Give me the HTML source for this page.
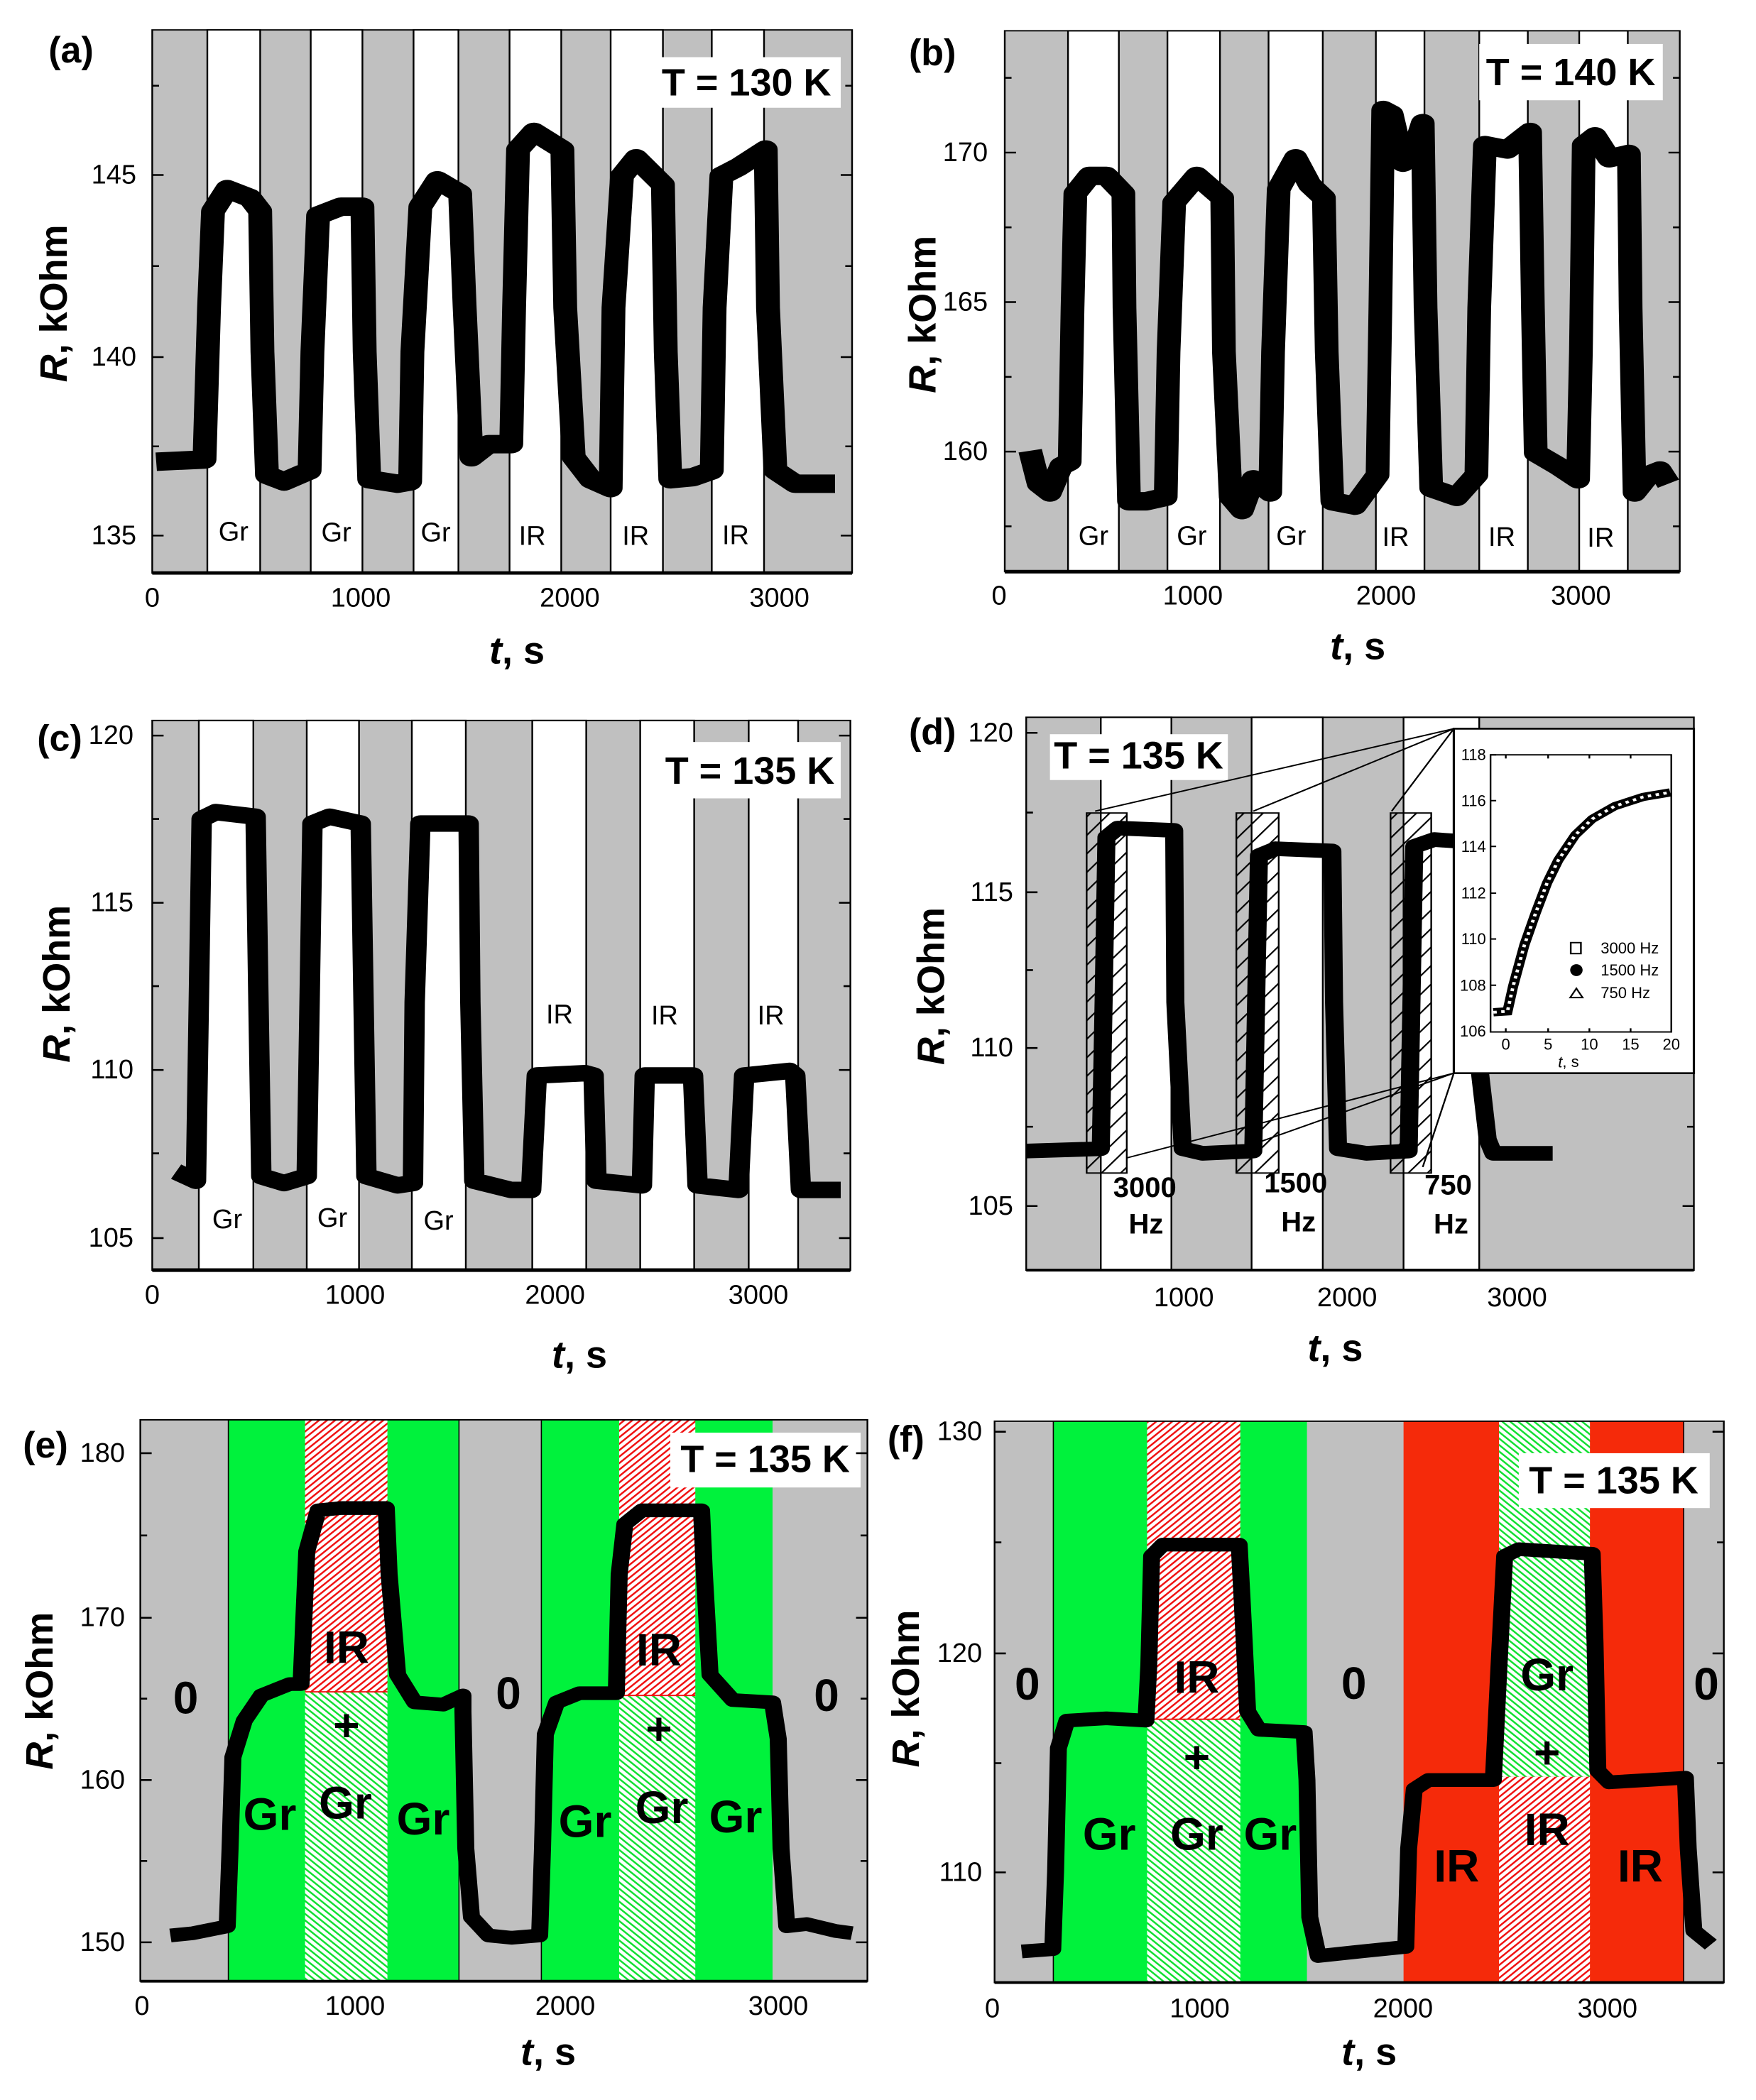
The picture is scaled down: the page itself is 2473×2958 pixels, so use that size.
<!DOCTYPE html>
<html><head><meta charset="utf-8"><style>
html,body{margin:0;padding:0;background:#fff}
svg{display:block}
text{font-family:"Liberation Sans",Arial,sans-serif;fill:#000;dominant-baseline:central}
.tk{font-size:38px}
.ax{font-size:54px;font-weight:bold}
.pl{font-size:52px;font-weight:bold}
.T{font-size:54px;font-weight:bold}
.lb{font-size:38px}
.big{font-size:64px;font-weight:bold}
.hz{font-size:40px;font-weight:bold}
.in{font-size:22px}
</style></head><body>
<svg width="2473" height="2958" viewBox="0 0 2473 2958" xmlns="http://www.w3.org/2000/svg">
<defs>
<pattern id="rh" patternUnits="userSpaceOnUse" width="10" height="10" patternTransform="rotate(45)">
<rect width="10" height="10" fill="#fff"/><rect x="0" y="0" width="3.5" height="10" fill="#f01010"/></pattern>
<pattern id="gh" patternUnits="userSpaceOnUse" width="10" height="10" patternTransform="rotate(-45)">
<rect width="10" height="10" fill="#fff"/><rect x="0" y="0" width="3.5" height="10" fill="#10e030"/></pattern>
<pattern id="bh" patternUnits="userSpaceOnUse" width="26" height="26" patternTransform="rotate(40)">
<rect x="0" y="0" width="3" height="26" fill="#000"/></pattern>
</defs>
<rect width="2473" height="2958" fill="#fff"/>

<!-- ============ PANEL A ============ -->
<g transform="translate(0,0) scale(0.8,0.6194)">
<rect x="268" y="68" width="1232" height="1235" fill="#c0c0c0"/>
<g fill="#fff" stroke="#000" stroke-width="3">
<rect x="365" y="68" width="93" height="1235"/><rect x="547" y="68" width="91" height="1235"/><rect x="728" y="68" width="79" height="1235"/>
<rect x="897" y="68" width="91" height="1235"/><rect x="1075" y="68" width="92" height="1235"/><rect x="1253" y="68" width="92" height="1235"/>
</g>
<rect x="1148" y="130" width="332" height="115" fill="#fff"/>
<path d="M275,1050 L360,1045 L368,700 L375,480 L400,430 L440,450 L458,480 L462,800 L470,1080 L500,1095 L545,1070 L550,800 L560,490 L600,470 L638,470 L642,800 L650,1090 L700,1100 L722,1095 L726,800 L740,470 L770,410 L810,440 L818,700 L830,1040 L860,1010 L900,1010 L905,700 L912,340 L940,300 L990,340 L995,700 L1010,1040 L1040,1090 L1075,1110 L1080,700 L1095,400 L1120,360 L1167,420 L1172,800 L1180,1090 L1220,1085 L1253,1070 L1258,700 L1270,400 L1300,380 L1348,340 L1352,700 L1365,1070 L1400,1100 L1470,1100" fill="none" stroke="#000" stroke-width="42" stroke-linejoin="round"/>
<rect x="268" y="68" width="1232" height="1235" fill="none" stroke="#000" stroke-width="3"/>
<line x1="268" y1="1303" x2="1500" y2="1303" stroke="#000" stroke-width="8"/>
<path d="M268,398h20M268,812h20M268,1218h20M268,605h12M268,1015h12M268,195h12M1500,398h-20M1500,812h-20M1500,1218h-20M1500,605h-12M1500,1015h-12M1500,195h-12" stroke="#000" stroke-width="4"/>
<text class="tk" text-anchor="end" transform="translate(240,398) scale(1.25,1.6146)">145</text>
<text class="tk" text-anchor="end" transform="translate(240,812) scale(1.25,1.6146)">140</text>
<text class="tk" text-anchor="end" transform="translate(240,1218) scale(1.25,1.6146)">135</text>
<text class="tk" text-anchor="middle" transform="translate(268,1360) scale(1.25,1.6146)">0</text>
<text class="tk" text-anchor="middle" transform="translate(635,1360) scale(1.25,1.6146)">1000</text>
<text class="tk" text-anchor="middle" transform="translate(1003,1360) scale(1.25,1.6146)">2000</text>
<text class="tk" text-anchor="middle" transform="translate(1372,1360) scale(1.25,1.6146)">3000</text>
<text class="lb" text-anchor="middle" transform="translate(411,1210) scale(1.25,1.6146)">Gr</text>
<text class="lb" text-anchor="middle" transform="translate(592,1212) scale(1.25,1.6146)">Gr</text>
<text class="lb" text-anchor="middle" transform="translate(767,1212) scale(1.25,1.6146)">Gr</text>
<text class="lb" text-anchor="middle" transform="translate(937,1220) scale(1.25,1.6146)">IR</text>
<text class="lb" text-anchor="middle" transform="translate(1119,1220) scale(1.25,1.6146)">IR</text>
<text class="lb" text-anchor="middle" transform="translate(1295,1218) scale(1.25,1.6146)">IR</text>
<text class="T" text-anchor="middle" transform="translate(1314,188) scale(1.25,1.6146)">T = 130 K</text>
<text class="pl" text-anchor="middle" transform="translate(125,115) scale(1.25,1.6146)">(a)</text>
<text class="ax" text-anchor="middle" transform="translate(910,1480) scale(1.25,1.6146)"><tspan font-style="italic">t</tspan>, s</text>
<text class="ax" text-anchor="middle" transform="translate(95,690) scale(1.25,1.6146) rotate(-90)"><tspan font-style="italic">R</tspan>, kOhm</text>
</g>

<!-- ============ PANEL B ============ -->
<g transform="translate(1240,0) scale(0.7955,0.6194)">
<rect x="220" y="70" width="1195" height="1230" fill="#c0c0c0"/>
<g fill="#fff" stroke="#000" stroke-width="3">
<rect x="332" y="70" width="90" height="1230"/><rect x="508" y="70" width="93" height="1230"/><rect x="687" y="70" width="96" height="1230"/>
<rect x="877" y="70" width="86" height="1230"/><rect x="1060" y="70" width="86" height="1230"/><rect x="1237" y="70" width="86" height="1230"/>
</g>
<rect x="1060" y="100" width="325" height="128" fill="#fff"/>
<path d="M265,1025 L280,1100 L300,1120 L320,1060 L335,1050 L340,700 L345,440 L370,400 L400,400 L430,440 L432,700 L440,1140 L470,1140 L505,1130 L510,800 L520,460 L560,400 L605,450 L608,800 L620,1130 L640,1160 L660,1090 L690,1120 L695,800 L705,430 L735,360 L760,420 L785,450 L790,800 L800,1140 L840,1150 L880,1080 L885,700 L890,250 L905,260 L925,370 L945,340 L960,280 L965,700 L975,1110 L1020,1130 L1055,1080 L1060,700 L1070,330 L1110,340 L1150,300 L1155,700 L1160,1030 L1200,1060 L1235,1090 L1240,800 L1245,330 L1265,310 L1290,360 L1325,350 L1328,700 L1335,1120 L1360,1080 L1380,1070 L1395,1100" fill="none" stroke="#000" stroke-width="42" stroke-linejoin="round"/>
<rect x="220" y="70" width="1195" height="1230" fill="none" stroke="#000" stroke-width="3"/>
<line x1="220" y1="1300" x2="1415" y2="1300" stroke="#000" stroke-width="8"/>
<path d="M220,347h20M220,687h20M220,1027h20M220,177h12M220,517h12M220,857h12M220,1197h12M1415,347h-20M1415,687h-20M1415,1027h-20M1415,177h-12M1415,517h-12M1415,857h-12M1415,1197h-12" stroke="#000" stroke-width="4"/>
<text class="tk" text-anchor="end" transform="translate(190,347) scale(1.2571,1.6146)">170</text>
<text class="tk" text-anchor="end" transform="translate(190,687) scale(1.2571,1.6146)">165</text>
<text class="tk" text-anchor="end" transform="translate(190,1027) scale(1.2571,1.6146)">160</text>
<text class="tk" text-anchor="middle" transform="translate(210,1355) scale(1.2571,1.6146)">0</text>
<text class="tk" text-anchor="middle" transform="translate(553,1355) scale(1.2571,1.6146)">1000</text>
<text class="tk" text-anchor="middle" transform="translate(895,1355) scale(1.2571,1.6146)">2000</text>
<text class="tk" text-anchor="middle" transform="translate(1240,1355) scale(1.2571,1.6146)">3000</text>
<text class="lb" text-anchor="middle" transform="translate(377,1220) scale(1.2571,1.6146)">Gr</text>
<text class="lb" text-anchor="middle" transform="translate(551,1220) scale(1.2571,1.6146)">Gr</text>
<text class="lb" text-anchor="middle" transform="translate(727,1220) scale(1.2571,1.6146)">Gr</text>
<text class="lb" text-anchor="middle" transform="translate(912,1222) scale(1.2571,1.6146)">IR</text>
<text class="lb" text-anchor="middle" transform="translate(1100,1222) scale(1.2571,1.6146)">IR</text>
<text class="lb" text-anchor="middle" transform="translate(1275,1224) scale(1.2571,1.6146)">IR</text>
<text class="T" text-anchor="middle" transform="translate(1222,165) scale(1.2571,1.6146)">T = 140 K</text>
<text class="pl" text-anchor="middle" transform="translate(92,120) scale(1.2571,1.6146)">(b)</text>
<text class="ax" text-anchor="middle" transform="translate(845,1470) scale(1.2571,1.6146)"><tspan font-style="italic">t</tspan>, s</text>
<text class="ax" text-anchor="middle" transform="translate(75,715) scale(1.2571,1.6146) rotate(-90)"><tspan font-style="italic">R</tspan>, kOhm</text>
</g>

<!-- ============ PANEL C ============ -->
<g transform="translate(0,960) scale(0.8,0.6452)">
<rect x="268" y="85" width="1229" height="1200" fill="#c0c0c0"/>
<g fill="#fff" stroke="#000" stroke-width="3">
<rect x="350" y="85" width="96" height="1200"/><rect x="540" y="85" width="92" height="1200"/><rect x="725" y="85" width="95" height="1200"/>
<rect x="937" y="85" width="95" height="1200"/><rect x="1127" y="85" width="95" height="1200"/><rect x="1318" y="85" width="87" height="1200"/>
</g>
<rect x="1165" y="132" width="315" height="123" fill="#fff"/>
<path d="M310,1070 L345,1090 L350,700 L355,300 L380,285 L450,295 L455,700 L460,1080 L500,1095 L540,1080 L545,700 L550,310 L580,295 L635,310 L640,700 L645,1080 L700,1100 L727,1095 L730,700 L740,310 L770,310 L825,310 L828,700 L835,1090 L900,1110 L935,1110 L945,860 L1030,855 L1045,860 L1050,1090 L1130,1100 L1135,860 L1220,860 L1228,1100 L1300,1110 L1310,860 L1390,850 L1400,860 L1410,1110 L1480,1110" fill="none" stroke="#000" stroke-width="36" stroke-linejoin="round"/>
<rect x="268" y="85" width="1229" height="1200" fill="none" stroke="#000" stroke-width="3"/>
<line x1="268" y1="1285" x2="1497" y2="1285" stroke="#000" stroke-width="8"/>
<path d="M268,118h20M268,483h20M268,848h20M268,1215h20M268,300h12M268,665h12M268,1030h12M1497,118h-20M1497,483h-20M1497,848h-20M1497,1215h-20M1497,300h-12M1497,665h-12M1497,1030h-12" stroke="#000" stroke-width="4"/>
<text class="tk" text-anchor="end" transform="translate(235,118) scale(1.25,1.55)">120</text>
<text class="tk" text-anchor="end" transform="translate(235,483) scale(1.25,1.55)">115</text>
<text class="tk" text-anchor="end" transform="translate(235,848) scale(1.25,1.55)">110</text>
<text class="tk" text-anchor="end" transform="translate(235,1215) scale(1.25,1.55)">105</text>
<text class="tk" text-anchor="middle" transform="translate(268,1340) scale(1.25,1.55)">0</text>
<text class="tk" text-anchor="middle" transform="translate(625,1340) scale(1.25,1.55)">1000</text>
<text class="tk" text-anchor="middle" transform="translate(977,1340) scale(1.25,1.55)">2000</text>
<text class="tk" text-anchor="middle" transform="translate(1335,1340) scale(1.25,1.55)">3000</text>
<text class="lb" text-anchor="middle" transform="translate(400,1175) scale(1.25,1.55)">Gr</text>
<text class="lb" text-anchor="middle" transform="translate(585,1172) scale(1.25,1.55)">Gr</text>
<text class="lb" text-anchor="middle" transform="translate(772,1178) scale(1.25,1.55)">Gr</text>
<text class="lb" text-anchor="middle" transform="translate(985,728) scale(1.25,1.55)">IR</text>
<text class="lb" text-anchor="middle" transform="translate(1170,730) scale(1.25,1.55)">IR</text>
<text class="lb" text-anchor="middle" transform="translate(1357,730) scale(1.25,1.55)">IR</text>
<text class="T" text-anchor="middle" transform="translate(1320,195) scale(1.25,1.55)">T = 135 K</text>
<text class="pl" text-anchor="middle" transform="translate(105,125) scale(1.25,1.55)">(c)</text>
<text class="tk" text-anchor="end" transform="translate(235,118) scale(1.25,1.55)"></text>
<text class="ax" text-anchor="middle" transform="translate(1020,1470) scale(1.25,1.55)"><tspan font-style="italic">t</tspan>, s</text>
<text class="ax" text-anchor="middle" transform="translate(100,660) scale(1.25,1.55) rotate(-90)"><tspan font-style="italic">R</tspan>, kOhm</text>
</g>

<!-- ============ PANEL D ============ -->
<g transform="translate(1240,960) scale(0.7955,0.6452)">
<rect x="258" y="78" width="1182" height="1207" fill="#c0c0c0"/>
<g fill="#fff" stroke="#000" stroke-width="3">
<rect x="390" y="78" width="125" height="1207"/><rect x="657" y="78" width="126" height="1207"/><rect x="926" y="78" width="134" height="1207"/>
</g>
<rect x="300" y="115" width="315" height="100" fill="#fff"/>
<path d="M258,1025 L390,1020 L395,700 L400,340 L420,320 L520,325 L522,700 L535,1020 L570,1030 L660,1025 L665,700 L670,380 L700,365 L800,370 L803,700 L810,1020 L860,1030 L935,1025 L940,700 L945,360 L980,345 L1040,350 M1060,840 L1075,1000 L1085,1030 L1190,1030" fill="none" stroke="#000" stroke-width="32" stroke-linejoin="round"/>
<g stroke="#000" stroke-width="3">
<rect x="365" y="287" width="71" height="786" fill="url(#bh)"/>
<rect x="630" y="287" width="75" height="786" fill="url(#bh)"/>
<rect x="903" y="287" width="72" height="786" fill="url(#bh)"/>
<path d="M380,283L1015,103M660,283L1015,103M905,283L1015,103M436,1040L1015,855M660,1010L1015,855M960,1060L1015,855" fill="none"/>
</g>
<rect x="1015" y="103" width="425" height="752" fill="#fff" stroke="#000" stroke-width="4"/>
<rect x="1080" y="160" width="320" height="605" fill="none" stroke="#000" stroke-width="3"/>
<path d="M1080,160h10M1080,260h10M1080,360h10M1080,462h10M1080,562h10M1080,663h10M1080,763h0M1107,765v-8M1182,765v-8M1255,765v-8M1328,765v-8M1400,765v-8M1107,160v8M1182,160v8M1255,160v8M1328,160v8" stroke="#000" stroke-width="3"/>
<path d="M1085,722 L1110,720 L1120,665 L1140,575 L1160,505 L1180,440 L1200,390 L1230,335 L1260,300 L1300,272 L1350,252 L1398,242" fill="none" stroke="#000" stroke-width="18"/>
<path d="M1085,722 L1110,720 L1120,665 L1140,575 L1160,505 L1180,440 L1200,390 L1230,335 L1260,300 L1300,272 L1350,252 L1398,242" fill="none" stroke="#fff" stroke-width="6" stroke-dasharray="6,8"/>
<rect x="1222" y="570" width="18" height="24" fill="#fff" stroke="#000" stroke-width="3"/>
<ellipse cx="1232" cy="630" rx="11" ry="13" fill="#000"/>
<path d="M1221,690 L1232,670 L1243,690Z" fill="#fff" stroke="#000" stroke-width="3"/>
<text class="in" transform="translate(1275,582) scale(1.2571,1.55)">3000 Hz</text>
<text class="in" transform="translate(1275,630) scale(1.2571,1.55)">1500 Hz</text>
<text class="in" transform="translate(1275,680) scale(1.2571,1.55)">750 Hz</text>
<text class="in" text-anchor="end" transform="translate(1072,160) scale(1.2571,1.55)">118</text>
<text class="in" text-anchor="end" transform="translate(1072,260) scale(1.2571,1.55)">116</text>
<text class="in" text-anchor="end" transform="translate(1072,360) scale(1.2571,1.55)">114</text>
<text class="in" text-anchor="end" transform="translate(1072,462) scale(1.2571,1.55)">112</text>
<text class="in" text-anchor="end" transform="translate(1072,562) scale(1.2571,1.55)">110</text>
<text class="in" text-anchor="end" transform="translate(1072,663) scale(1.2571,1.55)">108</text>
<text class="in" text-anchor="end" transform="translate(1072,763) scale(1.2571,1.55)">106</text>
<text class="in" text-anchor="middle" transform="translate(1107,792) scale(1.2571,1.55)">0</text>
<text class="in" text-anchor="middle" transform="translate(1182,792) scale(1.2571,1.55)">5</text>
<text class="in" text-anchor="middle" transform="translate(1255,792) scale(1.2571,1.55)">10</text>
<text class="in" text-anchor="middle" transform="translate(1328,792) scale(1.2571,1.55)">15</text>
<text class="in" text-anchor="middle" transform="translate(1400,792) scale(1.2571,1.55)">20</text>
<text class="in" text-anchor="middle" transform="translate(1218,830) scale(1.2571,1.55)"><tspan font-style="italic">t</tspan>, s</text>
<rect x="258" y="78" width="1182" height="1207" fill="none" stroke="#000" stroke-width="3"/>
<line x1="258" y1="1285" x2="1440" y2="1285" stroke="#000" stroke-width="6"/>
<path d="M258,112h20M258,460h20M258,800h20M258,1145h20M258,286h12M258,630h12M258,972h12M1440,972h-12M1440,1145h-20" stroke="#000" stroke-width="4"/>
<text class="tk" text-anchor="end" transform="translate(235,112) scale(1.2571,1.55)">120</text>
<text class="tk" text-anchor="end" transform="translate(235,460) scale(1.2571,1.55)">115</text>
<text class="tk" text-anchor="end" transform="translate(235,800) scale(1.2571,1.55)">110</text>
<text class="tk" text-anchor="end" transform="translate(235,1145) scale(1.2571,1.55)">105</text>
<text class="tk" text-anchor="middle" transform="translate(537,1345) scale(1.2571,1.55)">1000</text>
<text class="tk" text-anchor="middle" transform="translate(826,1345) scale(1.2571,1.55)">2000</text>
<text class="tk" text-anchor="middle" transform="translate(1127,1345) scale(1.2571,1.55)">3000</text>
<text class="hz" text-anchor="middle" transform="translate(468,1105) scale(1.2571,1.55)">3000</text>
<text class="hz" text-anchor="middle" transform="translate(470,1185) scale(1.2571,1.55)">Hz</text>
<text class="hz" text-anchor="middle" transform="translate(735,1095) scale(1.2571,1.55)">1500</text>
<text class="hz" text-anchor="middle" transform="translate(740,1180) scale(1.2571,1.55)">Hz</text>
<text class="hz" text-anchor="middle" transform="translate(1005,1100) scale(1.2571,1.55)">750</text>
<text class="hz" text-anchor="middle" transform="translate(1010,1185) scale(1.2571,1.55)">Hz</text>
<text class="T" text-anchor="middle" transform="translate(457,162) scale(1.2571,1.55)">T = 135 K</text>
<text class="pl" text-anchor="middle" transform="translate(92,110) scale(1.2571,1.55)">(d)</text>
<text class="ax" text-anchor="middle" transform="translate(805,1455) scale(1.2571,1.55)"><tspan font-style="italic">t</tspan>, s</text>
<text class="ax" text-anchor="middle" transform="translate(90,665) scale(1.2571,1.55) rotate(-90)"><tspan font-style="italic">R</tspan>, kOhm</text>
</g>

<!-- ============ PANEL E ============ -->
<g transform="translate(0,1960) scale(0.8,0.6439)">
<rect x="247" y="62" width="1280" height="1228" fill="#c0c0c0"/>
<rect x="402" y="62" width="406" height="1228" fill="#00f23c"/>
<rect x="953" y="62" width="407" height="1228" fill="#00f23c"/>
<rect x="537" y="62" width="145" height="595" fill="url(#rh)"/>
<rect x="537" y="657" width="145" height="633" fill="url(#gh)"/>
<rect x="1090" y="62" width="134" height="603" fill="url(#rh)"/>
<rect x="1090" y="665" width="134" height="625" fill="url(#gh)"/>
<path d="M537,657h145M1090,665h134" stroke="#f01010" stroke-width="3"/>
<path d="M402,62v1228M808,62v1228M953,62v1228" stroke="#000" stroke-width="2"/>
<rect x="1180" y="90" width="335" height="120" fill="#fff"/>
<path d="M300,1190 L340,1185 L400,1170 L405,1000 L410,800 L430,720 L460,665 L510,640 L530,640 L540,350 L560,260 L600,255 L680,255 L685,400 L700,620 L730,680 L780,685 L815,665 L815,700 L820,1000 L830,1150 L860,1190 L900,1195 L950,1190 L955,1000 L960,750 L980,680 L1020,660 L1085,660 L1090,400 L1100,290 L1130,260 L1235,260 L1240,400 L1250,620 L1290,675 L1360,680 L1370,760 L1375,1000 L1385,1170 L1420,1165 L1470,1180 L1500,1185" fill="none" stroke="#000" stroke-width="30" stroke-linejoin="round"/>
<rect x="247" y="62" width="1280" height="1228" fill="none" stroke="#000" stroke-width="3"/>
<line x1="247" y1="1290" x2="1527" y2="1290" stroke="#000" stroke-width="6"/>
<path d="M247,135h20M247,495h20M247,850h20M247,1205h20M247,315h12M247,672h12M247,1027h12M1527,135h-20M1527,495h-20M1527,850h-20M1527,1205h-20M1527,315h-12M1527,672h-12M1527,1027h-12" stroke="#000" stroke-width="4"/>
<text class="tk" text-anchor="end" transform="translate(220,135) scale(1.25,1.553)">180</text>
<text class="tk" text-anchor="end" transform="translate(220,495) scale(1.25,1.553)">170</text>
<text class="tk" text-anchor="end" transform="translate(220,850) scale(1.25,1.553)">160</text>
<text class="tk" text-anchor="end" transform="translate(220,1205) scale(1.25,1.553)">150</text>
<text class="tk" text-anchor="middle" transform="translate(250,1345) scale(1.25,1.553)">0</text>
<text class="tk" text-anchor="middle" transform="translate(625,1345) scale(1.25,1.553)">1000</text>
<text class="tk" text-anchor="middle" transform="translate(995,1345) scale(1.25,1.553)">2000</text>
<text class="tk" text-anchor="middle" transform="translate(1370,1345) scale(1.25,1.553)">3000</text>
<g class="big" text-anchor="middle">
<text class="big" text-anchor="middle" transform="translate(327,670) scale(1.25,1.553)">0</text>
<text class="big" text-anchor="middle" transform="translate(895,660) scale(1.25,1.553)">0</text>
<text class="big" text-anchor="middle" transform="translate(1455,665) scale(1.25,1.553)">0</text>
<text class="big" text-anchor="middle" transform="translate(610,560) scale(1.25,1.553)">IR</text>
<text class="big" text-anchor="middle" transform="translate(1160,565) scale(1.25,1.553)">IR</text>
<text class="big" text-anchor="middle" transform="translate(610,730) scale(1.25,1.553)">+</text>
<text class="big" text-anchor="middle" transform="translate(1160,738) scale(1.25,1.553)">+</text>
<text class="big" text-anchor="middle" transform="translate(475,925) scale(1.25,1.553)">Gr</text>
<text class="big" text-anchor="middle" transform="translate(608,900) scale(1.25,1.553)">Gr</text>
<text class="big" text-anchor="middle" transform="translate(745,935) scale(1.25,1.553)">Gr</text>
<text class="big" text-anchor="middle" transform="translate(1030,940) scale(1.25,1.553)">Gr</text>
<text class="big" text-anchor="middle" transform="translate(1165,910) scale(1.25,1.553)">Gr</text>
<text class="big" text-anchor="middle" transform="translate(1295,930) scale(1.25,1.553)">Gr</text>
</g>
<text class="T" text-anchor="middle" transform="translate(1347,148) scale(1.25,1.553)">T = 135 K</text>
<text class="pl" text-anchor="middle" transform="translate(80,118) scale(1.25,1.553)">(e)</text>
<text class="ax" text-anchor="middle" transform="translate(965,1445) scale(1.25,1.553)"><tspan font-style="italic">t</tspan>, s</text>
<text class="ax" text-anchor="middle" transform="translate(70,655) scale(1.25,1.553) rotate(-90)"><tspan font-style="italic">R</tspan>, kOhm</text>
</g>

<!-- ============ PANEL F ============ -->
<g transform="translate(1240,1960) scale(0.7955,0.6439)">
<rect x="202" y="65" width="1291" height="1228" fill="#c0c0c0"/>
<rect x="306" y="65" width="449" height="1228" fill="#00f23c"/>
<rect x="926" y="65" width="496" height="1228" fill="#f52a0a"/>
<rect x="472" y="65" width="165" height="652" fill="url(#rh)"/>
<rect x="472" y="717" width="165" height="576" fill="url(#gh)"/>
<rect x="1095" y="65" width="161" height="778" fill="url(#gh)"/>
<rect x="1095" y="843" width="161" height="450" fill="url(#rh)"/>
<path d="M472,717h165" stroke="#f01010" stroke-width="3"/>
<path d="M306,65v1228M1422,65v1228" stroke="#000" stroke-width="2"/>
<rect x="1130" y="135" width="338" height="120" fill="#fff"/>
<path d="M250,1225 L305,1220 L310,1050 L315,780 L330,720 L400,715 L470,720 L475,600 L480,360 L500,335 L635,335 L640,450 L650,700 L670,740 L750,745 L755,850 L760,1150 L775,1235 L850,1225 L930,1215 L935,1000 L945,870 L970,850 L1085,850 L1095,600 L1105,360 L1130,345 L1260,355 L1265,550 L1270,830 L1290,855 L1425,845 L1430,1000 L1440,1180 L1470,1210" fill="none" stroke="#000" stroke-width="30" stroke-linejoin="round"/>
<rect x="202" y="65" width="1291" height="1228" fill="none" stroke="#000" stroke-width="3"/>
<line x1="202" y1="1293" x2="1493" y2="1293" stroke="#000" stroke-width="6"/>
<path d="M202,88h20M202,573h20M202,1052h20M202,330h12M202,813h12M1493,88h-20M1493,573h-20M1493,1052h-20M1493,330h-12M1493,813h-12" stroke="#000" stroke-width="4"/>
<text class="tk" text-anchor="end" transform="translate(180,88) scale(1.2571,1.553)">130</text>
<text class="tk" text-anchor="end" transform="translate(180,573) scale(1.2571,1.553)">120</text>
<text class="tk" text-anchor="end" transform="translate(180,1052) scale(1.2571,1.553)">110</text>
<text class="tk" text-anchor="middle" transform="translate(198,1350) scale(1.2571,1.553)">0</text>
<text class="tk" text-anchor="middle" transform="translate(565,1350) scale(1.2571,1.553)">1000</text>
<text class="tk" text-anchor="middle" transform="translate(925,1350) scale(1.2571,1.553)">2000</text>
<text class="tk" text-anchor="middle" transform="translate(1287,1350) scale(1.2571,1.553)">3000</text>
<text class="big" text-anchor="middle" transform="translate(260,640) scale(1.2571,1.553)">0</text>
<text class="big" text-anchor="middle" transform="translate(838,638) scale(1.2571,1.553)">0</text>
<text class="big" text-anchor="middle" transform="translate(1462,640) scale(1.2571,1.553)">0</text>
<text class="big" text-anchor="middle" transform="translate(560,625) scale(1.2571,1.553)">IR</text>
<text class="big" text-anchor="middle" transform="translate(560,800) scale(1.2571,1.553)">+</text>
<text class="big" text-anchor="middle" transform="translate(405,968) scale(1.2571,1.553)">Gr</text>
<text class="big" text-anchor="middle" transform="translate(560,968) scale(1.2571,1.553)">Gr</text>
<text class="big" text-anchor="middle" transform="translate(690,968) scale(1.2571,1.553)">Gr</text>
<text class="big" text-anchor="middle" transform="translate(1180,620) scale(1.2571,1.553)">Gr</text>
<text class="big" text-anchor="middle" transform="translate(1180,790) scale(1.2571,1.553)">+</text>
<text class="big" text-anchor="middle" transform="translate(1180,958) scale(1.2571,1.553)">IR</text>
<text class="big" text-anchor="middle" transform="translate(1020,1038) scale(1.2571,1.553)">IR</text>
<text class="big" text-anchor="middle" transform="translate(1345,1038) scale(1.2571,1.553)">IR</text>
<text class="T" text-anchor="middle" transform="translate(1298,195) scale(1.2571,1.553)">T = 135 K</text>
<text class="pl" text-anchor="middle" transform="translate(45,105) scale(1.2571,1.553)">(f)</text>
<text class="ax" text-anchor="middle" transform="translate(865,1445) scale(1.2571,1.553)"><tspan font-style="italic">t</tspan>, s</text>
<text class="ax" text-anchor="middle" transform="translate(45,650) scale(1.2571,1.553) rotate(-90)"><tspan font-style="italic">R</tspan>, kOhm</text>
</g>
</svg>
</body></html>
